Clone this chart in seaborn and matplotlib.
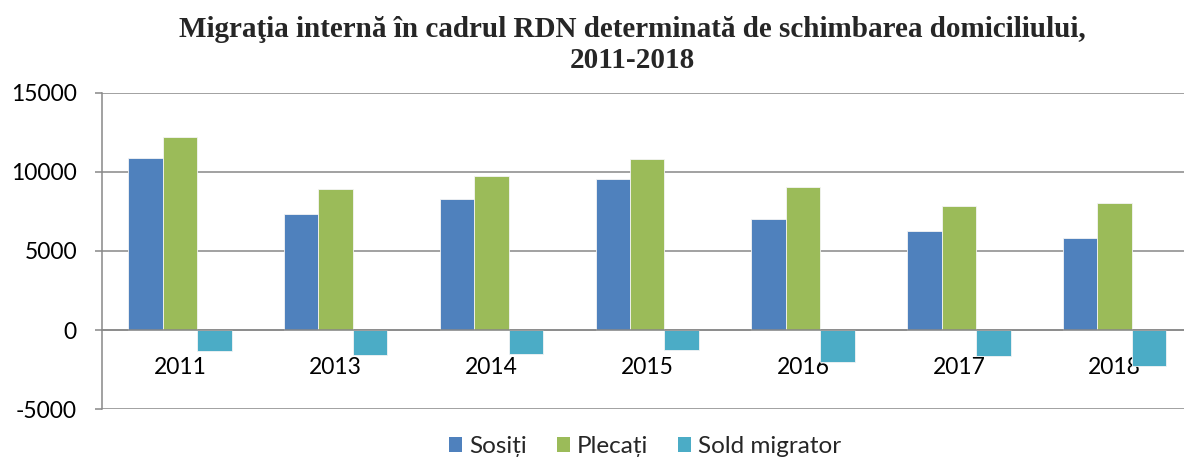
import matplotlib
matplotlib.use("Agg")
import matplotlib.pyplot as plt
from matplotlib.patches import Patch
from matplotlib.ticker import FixedLocator, MultipleLocator
import pandas as pd
import seaborn as sns

years = ["2011", "2013", "2014", "2015", "2016", "2017", "2018"]
sositi = [10870, 7330, 8270, 9560, 7050, 6250, 5790]
plecati = [12170, 8930, 9750, 10790, 9050, 7850, 8020]
sold_migrator = [-1330, -1600, -1520, -1240, -2000, -1620, -2250]

series_names = ["Sosiți", "Plecați", "Sold migrator"]
series_colors = ["#4F81BD", "#9BBB59", "#4BACC6"]

df = pd.DataFrame({
    "An": years * 3,
    "Serie": [series_names[0]] * len(years) + [series_names[1]] * len(years) + [series_names[2]] * len(years),
    "Valoare": sositi + plecati + sold_migrator,
})

sns.set_theme(style="white")
plt.rcParams["font.family"] = ["Lato", "DejaVu Sans"]
plt.rcParams["axes.unicode_minus"] = False

fig = plt.figure(figsize=(11.84, 4.62), dpi=100)
ax = fig.add_axes([0.0861, 0.1141, 0.9211, 0.6853])

sns.barplot(
    data=df, x="An", y="Valoare", hue="Serie", order=years, hue_order=series_names,
    palette=series_colors, saturation=1, width=0.664, dodge=True,
    edgecolor="#f4f4f4", linewidth=0.6, legend=False, ax=ax,
)

grid_color = "#888888"
ax.set_ylim(-5000, 15000)
ax.set_xlim(-0.5, len(years) - 0.5)
ax.yaxis.set_major_locator(MultipleLocator(5000))
ax.grid(axis="y", color=grid_color, linewidth=1.1, zorder=0)
ax.set_axisbelow(True)

for side in ["top", "right"]:
    ax.spines[side].set_visible(False)
ax.spines["left"].set_color(grid_color)
ax.spines["left"].set_linewidth(1.1)
ax.spines["bottom"].set_position(("data", 0))
ax.spines["bottom"].set_color(grid_color)
ax.spines["bottom"].set_linewidth(1.1)

ax.set_xlabel("")
ax.set_ylabel("")

# category labels without ticks, boundary tick marks between categories
ax.tick_params(axis="x", which="major", length=0, pad=19, labelsize=16.5, labelcolor="black")
ax.xaxis.set_minor_locator(FixedLocator([i + 0.5 for i in range(-1, len(years))]))
ax.tick_params(axis="x", which="minor", length=6, width=1.1, color=grid_color, direction="out")
ax.tick_params(axis="y", which="major", length=5, width=1.1, color=grid_color, left=True,
               labelsize=16.5, labelcolor="black", pad=13)

fig.text(0.534, 0.902, "Migraţia internă în cadrul RDN determinată de schimbarea domiciliului,\n2011-2018",
         ha="center", va="center", fontsize=21, fontweight="bold",
         family=["Liberation Serif", "DejaVu Serif"], linespacing=1.2)

handles = [Patch(facecolor=c, edgecolor="none") for c in series_colors]
fig.legend(handles, series_names, loc="center", bbox_to_anchor=(0.545, 0.033), ncol=3,
           frameon=False, fontsize=17.5, handlelength=0.55, handleheight=0.55,
           handletextpad=0.3, columnspacing=1.2)

fig.savefig("out.png", dpi=100)
